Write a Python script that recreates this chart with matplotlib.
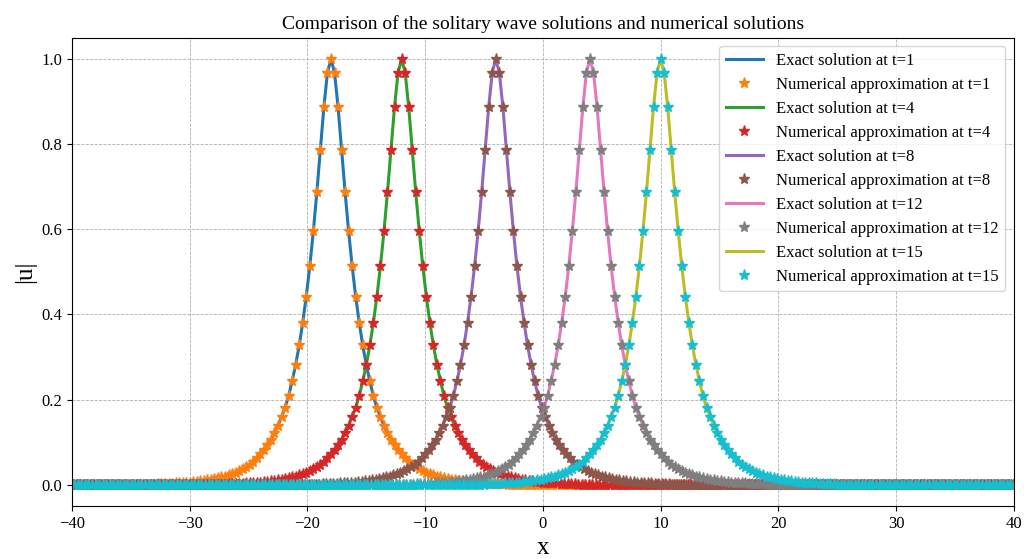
import numpy as np
from matplotlib import pyplot as plt

plt.rcParams['font.family'] = ['Liberation Serif', 'DejaVu Serif']

# tiempos y posicion del pico de cada solucion
tiempos = [1, 4, 8, 12, 15]
centros = [-18, -12, -4, 4, 10]

dx = 0.3

# perfil |u| a distancia d = 0, 0.3, 0.6 ... del pico (simetrico)
perfil = [1.000, 0.968, 0.888, 0.787, 0.687, 0.595, 0.513, 0.442, 0.381, 0.327,
          0.282, 0.243, 0.209, 0.181, 0.160, 0.139, 0.121, 0.106, 0.093, 0.081,
          0.071, 0.062, 0.054, 0.047, 0.041, 0.036, 0.032, 0.028, 0.025, 0.022,
          0.019, 0.017, 0.015, 0.013, 0.011, 0.010, 0.009, 0.008, 0.007, 0.006,
          0.005, 0.0045, 0.004, 0.0035, 0.003, 0.0025, 0.002, 0.002, 0.0015, 0.001]

colores_exacta = ['C0', 'C2', 'C4', 'C6', 'C8']
colores_num = ['C1', 'C3', 'C5', 'C7', 'C9']

perfil = np.array(perfil)
n = len(perfil)

fig = plt.figure(figsize=(10.24, 5.59), dpi=100)
ax = fig.add_axes([0.0703, 0.0948, 0.9197, 0.8378])

for t, c, ce, cn in zip(tiempos, centros, colores_exacta, colores_num):
    k = np.arange(-300, 301)
    x = c + dx * k
    dentro = (x >= -40) & (x <= 40)
    k = k[dentro]
    x = x[dentro]
    u = np.zeros(len(k))
    cerca = np.abs(k) < n
    u[cerca] = perfil[np.abs(k[cerca])]
    # solucion exacta (linea) y aproximacion numerica (estrellas)
    ax.plot(x, u, color=ce, lw=2.2, label='Exact solution at t=%d' % t)
    ax.plot(x, u, '*', color=cn, ms=8, ls='none',
            label='Numerical approximation at t=%d' % t)

ax.set_xlim(-40, 40)
ax.set_ylim(-0.05, 1.05)
ax.set_title('Comparison of the solitary wave solutions and numerical solutions', fontsize=14)
ax.set_xlabel('x', fontsize=18, labelpad=4)
ax.set_ylabel('|u|', fontsize=18)
ax.tick_params(labelsize=12)
ax.grid(True, ls='--', lw=0.6, color='#b0b0b0')
ax.legend(loc='upper right', fontsize=12, labelspacing=0.48, handlelength=2.2)

plt.savefig('out.png', dpi=100)
